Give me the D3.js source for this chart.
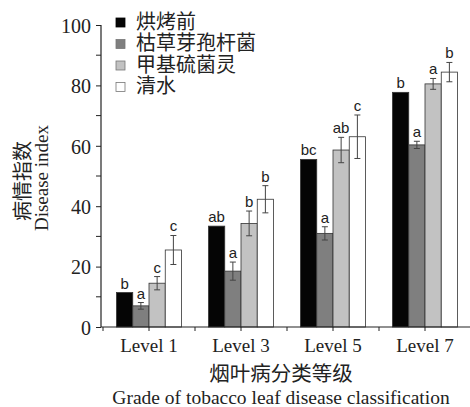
<!DOCTYPE html>
<html>
<head>
<meta charset="utf-8">
<script src="https://cdn.jsdelivr.net/npm/d3@7"></script>
<style>
  body { margin: 0; background: #fff; }
  .serif { font-family: "Liberation Serif", "DejaVu Serif", serif; fill: #222; }
  .cjk { font-family: "Noto Sans CJK SC", sans-serif; fill: #222; }
  .sig { font-family: "Liberation Sans", Arial, sans-serif; fill: #222; }
</style>
</head>
<body>
<div id="chart"></div>
<script>
(function(){

var levels = ["Level 1", "Level 3", "Level 5", "Level 7"];
var series = ["烘烤前", "枯草芽孢杆菌", "甲基硫菌灵", "清水"];
var colors = ["#050505", "#7f7f7f", "#c2c2c2", "#ffffff"];

// disease index per series, one value per level
var before   = [11.4, 33.4, 55.5, 77.7];
var bacillus = [7.0, 18.5, 31.0, 60.3];
var thioph   = [14.5, 34.3, 58.6, 80.5];
var water    = [25.5, 42.3, 63.0, 84.4];

// error bar half widths (0 = no bar)
var errBefore   = [0, 0, 0, 0];
var errBacillus = [1.1, 3.0, 2.2, 1.2];
var errThioph   = [2.2, 4.1, 4.2, 1.8];
var errWater    = [4.8, 4.5, 7.2, 3.2];

// significance letters
var sigBefore   = ["b", "ab", "bc", "b"];
var sigBacillus = ["a", "a", "a", "a"];
var sigThioph   = ["c", "b", "ab", "a"];
var sigWater    = ["c", "b", "c", "b"];

var yTicks = [0, 20, 40, 60, 80, 100];
var yMinor = [10, 30, 50, 70, 90];

var values = [before, bacillus, thioph, water];
var errs = [errBefore, errBacillus, errThioph, errWater];
var sigs = [sigBefore, sigBacillus, sigThioph, sigWater];

var width = 470, height = 407;

var svg = d3.select("#chart").append("svg")
  .attr("width", width)
  .attr("height", height);

var y = d3.scaleLinear().domain([0, 100]).range([327, 25]);

var x = d3.scaleBand()
  .domain(levels)
  .range([103, 471])
  .paddingInner(0)
  .paddingOuter(0);

var xs = d3.scaleBand()
  .domain(series)
  .range([0, x.bandwidth()])
  .paddingInner(0)
  .paddingOuter(0.83);

// build rows for bars
var rows = [];
levels.forEach(function(lv, i){
  series.forEach(function(s, j){
    rows.push({level: lv, series: s, j: j, v: values[j][i], e: errs[j][i], sig: sigs[j][i]});
  });
});

var g = svg.append("g");

g.selectAll(".bar")
  .data(rows)
  .enter()
  .append("rect")
  .attr("class", "bar")
  .attr("x", function(d){ return x(d.level) + xs(d.series); })
  .attr("width", xs.bandwidth())
  .attr("y", function(d){ return y(d.v); })
  .attr("height", function(d){ return y(0) - y(d.v); })
  .attr("fill", function(d){ return colors[d.j]; })
  .attr("stroke", "#333")
  .attr("stroke-width", 0.8);

// error bars
var eb = g.selectAll(".err")
  .data(rows.filter(function(d){ return d.e > 0; }))
  .enter()
  .append("g")
  .attr("class", "err")
  .attr("stroke", "#444")
  .attr("stroke-width", 1);

eb.append("line")
  .attr("x1", function(d){ return x(d.level) + xs(d.series) + xs.bandwidth() / 2; })
  .attr("x2", function(d){ return x(d.level) + xs(d.series) + xs.bandwidth() / 2; })
  .attr("y1", function(d){ return y(d.v - d.e); })
  .attr("y2", function(d){ return y(d.v + d.e); });

[-1, 1].forEach(function(sgn){
  eb.append("line")
    .attr("x1", function(d){ return x(d.level) + xs(d.series) + xs.bandwidth() / 2 - 3; })
    .attr("x2", function(d){ return x(d.level) + xs(d.series) + xs.bandwidth() / 2 + 3; })
    .attr("y1", function(d){ return y(d.v + sgn * d.e); })
    .attr("y2", function(d){ return y(d.v + sgn * d.e); });
});

// significance letters
g.selectAll(".sig")
  .data(rows)
  .enter()
  .append("text")
  .attr("class", "sig")
  .attr("x", function(d){ return x(d.level) + xs(d.series) + xs.bandwidth() / 2; })
  .attr("y", function(d){ return y(d.v + d.e) - 4; })
  .attr("text-anchor", "middle")
  .attr("font-size", 15)
  .text(function(d){ return d.sig; });

// y axis
var yAxis = svg.append("g")
  .attr("transform", "translate(101,0)")
  .call(d3.axisLeft(y).tickValues(yTicks).tickSize(5).tickPadding(5).tickFormat(d3.format("d")));
yAxis.select(".domain").attr("stroke", "#222").attr("stroke-width", 1.2).attr("d", "M0," + y(100) + "V" + y(0));
yAxis.selectAll(".tick line").attr("stroke", "#222");
yAxis.selectAll(".tick text")
  .attr("class", "serif")
  .attr("font-size", 20)
  .attr("dy", "0.36em");

svg.append("g")
  .selectAll("line")
  .data(yMinor)
  .enter()
  .append("line")
  .attr("x1", 96).attr("x2", 101)
  .attr("y1", function(d){ return y(d); })
  .attr("y2", function(d){ return y(d); })
  .attr("stroke", "#222");

// x axis
var xAxis = svg.append("g")
  .attr("transform", "translate(0," + y(0) + ")")
  .call(d3.axisBottom(x).tickSize(4).tickPadding(8));
xAxis.select(".domain").attr("stroke", "#222").attr("stroke-width", 1.2).attr("d", "M101,0H470");
xAxis.selectAll(".tick line").attr("stroke", "#222");
xAxis.selectAll(".tick text")
  .attr("class", "serif")
  .attr("font-size", 19);

// boundary ticks
xAxis.selectAll(".btick")
  .data(levels)
  .enter()
  .append("line")
  .attr("class", "btick")
  .attr("x1", function(d){ return x(d); })
  .attr("x2", function(d){ return x(d); })
  .attr("y1", 0).attr("y2", 4)
  .attr("stroke", "#222");

// axis titles
svg.append("text")
  .attr("class", "cjk")
  .attr("x", 281).attr("y", 381)
  .attr("text-anchor", "middle")
  .attr("font-size", 20.5)
  .text("烟叶病分类等级");

svg.append("text")
  .attr("class", "serif")
  .attr("x", 281).attr("y", 404)
  .attr("text-anchor", "middle")
  .attr("font-size", 19.5)
  .text("Grade of tobacco leaf disease classification");

svg.append("text")
  .attr("class", "cjk")
  .attr("transform", "translate(30,181) rotate(-90)")
  .attr("text-anchor", "middle")
  .attr("font-size", 20)
  .text("病情指数");

svg.append("text")
  .attr("class", "serif")
  .attr("transform", "translate(48,178) rotate(-90)")
  .attr("text-anchor", "middle")
  .attr("font-size", 19)
  .text("Disease index");

// legend
var legend = svg.append("g")
  .selectAll(".leg")
  .data(series)
  .enter()
  .append("g")
  .attr("class", "leg")
  .attr("transform", function(d, i){ return "translate(116," + (18 + i * 21.5) + ")"; });

legend.append("rect")
  .attr("width", 9).attr("height", 9)
  .attr("fill", function(d, i){ return colors[i]; })
  .attr("stroke", function(d, i){ return i == 0 ? "#000" : "#777"; })
  .attr("stroke-width", 0.8);

legend.append("text")
  .attr("class", "cjk")
  .attr("x", 20).attr("y", 2)
  .attr("dominant-baseline", "central")
  .attr("font-size", 20)
  .text(function(d){ return d; });

})();
</script>
</body>
</html>
